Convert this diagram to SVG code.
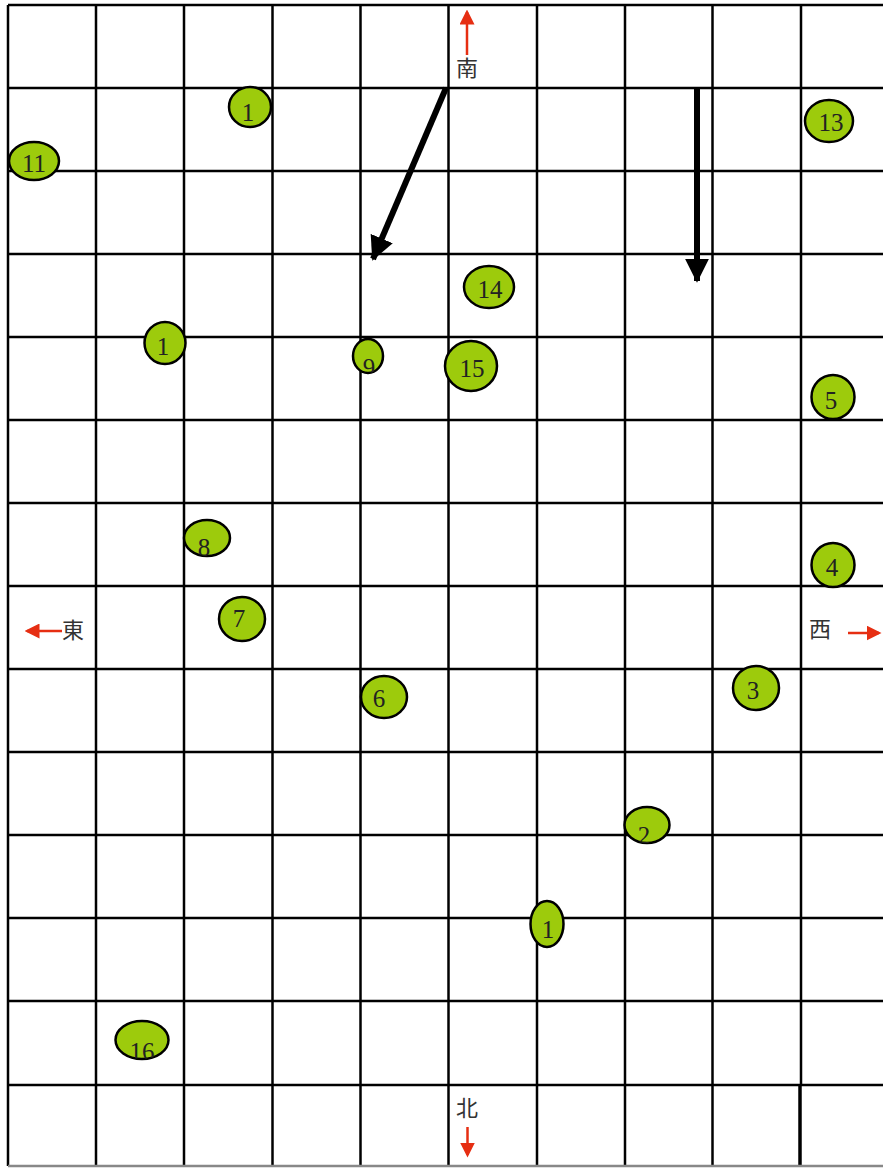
<svg xmlns="http://www.w3.org/2000/svg" width="883" height="1168" viewBox="0 0 883 1168">
<style>
.grid line{stroke:#000;stroke-width:2.5}
.node ellipse{fill:#9dcb0c;stroke:#000;stroke-width:2.5}
.node text{font-family:"Liberation Serif","Times New Roman",serif;font-size:25px;fill:#222;text-anchor:middle}
.dir{font-family:"Noto Sans CJK JP","Noto Sans CJK SC",sans-serif;font-size:22px;fill:#333}
.red{stroke:#e62e12;stroke-width:2.5;fill:none}
.blk{stroke:#000;stroke-width:6;fill:none}
</style>
<defs>
<marker id="rh" markerWidth="6" markerHeight="6" refX="5" refY="3" orient="auto" markerUnits="strokeWidth"><path d="M0,0 L6,3 L0,6 Z" fill="#e62e12"/></marker>
<marker id="bh" markerWidth="4" markerHeight="4" refX="3.7" refY="2" orient="auto" markerUnits="strokeWidth"><path d="M0,0 L4,2 L0,4 Z" fill="#000"/></marker>
<clipPath id="c9"><ellipse cx="368" cy="356" rx="15" ry="17"/></clipPath>
<clipPath id="c8"><ellipse cx="207" cy="538" rx="23" ry="18"/></clipPath>
<clipPath id="c2"><ellipse cx="647" cy="825" rx="22.5" ry="18"/></clipPath>
<clipPath id="c16"><ellipse cx="142" cy="1040" rx="26.5" ry="19"/></clipPath>
</defs>
<rect width="883" height="1168" fill="#fff"/>
<g class="grid" id="grid">
<line x1="8" y1="5" x2="8" y2="1166"/>
<line x1="96" y1="5" x2="96" y2="1166"/>
<line x1="184" y1="5" x2="184" y2="1166"/>
<line x1="272.5" y1="5" x2="272.5" y2="1166"/>
<line x1="360.5" y1="5" x2="360.5" y2="1166"/>
<line x1="448.5" y1="5" x2="448.5" y2="1166"/>
<line x1="537" y1="5" x2="537" y2="1166"/>
<line x1="625" y1="5" x2="625" y2="1166"/>
<line x1="712.5" y1="5" x2="712.5" y2="1166"/>
<line x1="801" y1="5" x2="801" y2="1085"/>
<line x1="800" y1="1085" x2="800" y2="1166" style="stroke-width:3.5"/>
<line x1="8" y1="5" x2="883" y2="5"/>
<line x1="8" y1="88" x2="883" y2="88"/>
<line x1="8" y1="171" x2="883" y2="171"/>
<line x1="8" y1="254" x2="883" y2="254"/>
<line x1="8" y1="337" x2="883" y2="337"/>
<line x1="8" y1="420" x2="883" y2="420"/>
<line x1="8" y1="503" x2="883" y2="503"/>
<line x1="8" y1="586" x2="883" y2="586"/>
<line x1="8" y1="669" x2="883" y2="669"/>
<line x1="8" y1="752" x2="883" y2="752"/>
<line x1="8" y1="835" x2="883" y2="835"/>
<line x1="8" y1="918" x2="883" y2="918"/>
<line x1="8" y1="1001" x2="883" y2="1001"/>
<line x1="8" y1="1085" x2="883" y2="1085"/>
<line x1="8" y1="1166" x2="883" y2="1166" style="stroke:#888"/>
</g>
<g id="connectors">
<line class="blk" x1="446" y1="88" x2="373" y2="259" marker-end="url(#bh)"/>
<line class="blk" x1="697" y1="88" x2="697" y2="281" marker-end="url(#bh)"/>
<line class="red" x1="467" y1="55" x2="467" y2="12" marker-end="url(#rh)"/>
<line class="red" x1="62" y1="631" x2="27" y2="631" marker-end="url(#rh)"/>
<line class="red" x1="848" y1="633" x2="879" y2="633" marker-end="url(#rh)"/>
<line class="red" x1="467.5" y1="1127" x2="467.5" y2="1155" marker-end="url(#rh)"/>
</g>
<g id="labels">
<text class="dir" x="456" y="76">南</text>
<text class="dir" x="62" y="638">東</text>
<text class="dir" x="809" y="637">西</text>
<text class="dir" x="456" y="1116">北</text>
</g>
<g class="node" id="n1a"><ellipse cx="250" cy="107" rx="21" ry="20"/><text x="248" y="121">1</text></g>
<g class="node" id="n11"><ellipse cx="34" cy="161" rx="25" ry="19"/><text x="34" y="172">11</text></g>
<g class="node" id="n13"><ellipse cx="829" cy="121" rx="24" ry="21"/><text x="831" y="131">13</text></g>
<g class="node" id="n14"><ellipse cx="489" cy="287" rx="25" ry="21"/><text x="490" y="298">14</text></g>
<g class="node" id="n1b"><ellipse cx="165" cy="343" rx="20.5" ry="21"/><text x="163" y="355">1</text></g>
<g class="node" id="n9"><ellipse cx="368" cy="356" rx="15" ry="17"/><text x="369" y="376" clip-path="url(#c9)">9</text></g>
<g class="node" id="n15"><ellipse cx="471" cy="366" rx="26" ry="25"/><text x="472" y="377">15</text></g>
<g class="node" id="n5"><ellipse cx="833" cy="397" rx="21.5" ry="22"/><text x="831" y="409">5</text></g>
<g class="node" id="n8"><ellipse cx="207" cy="538" rx="23" ry="18"/><text x="204" y="556" clip-path="url(#c8)">8</text></g>
<g class="node" id="n4"><ellipse cx="833" cy="565" rx="21.5" ry="22"/><text x="832" y="576">4</text></g>
<g class="node" id="n7"><ellipse cx="242" cy="619" rx="23" ry="22"/><text x="239" y="627">7</text></g>
<g class="node" id="n6"><ellipse cx="384" cy="697" rx="23" ry="21"/><text x="379" y="707">6</text></g>
<g class="node" id="n3"><ellipse cx="756" cy="688" rx="23" ry="22"/><text x="753" y="699">3</text></g>
<g class="node" id="n2"><ellipse cx="647" cy="825" rx="22.5" ry="18"/><text x="644" y="844" clip-path="url(#c2)">2</text></g>
<g class="node" id="n1c"><ellipse cx="547" cy="924" rx="16.5" ry="23"/><text x="548" y="938">1</text></g>
<g class="node" id="n16"><ellipse cx="142" cy="1040" rx="26.5" ry="19"/><text x="142" y="1060" clip-path="url(#c16)">16</text></g>
</svg>
